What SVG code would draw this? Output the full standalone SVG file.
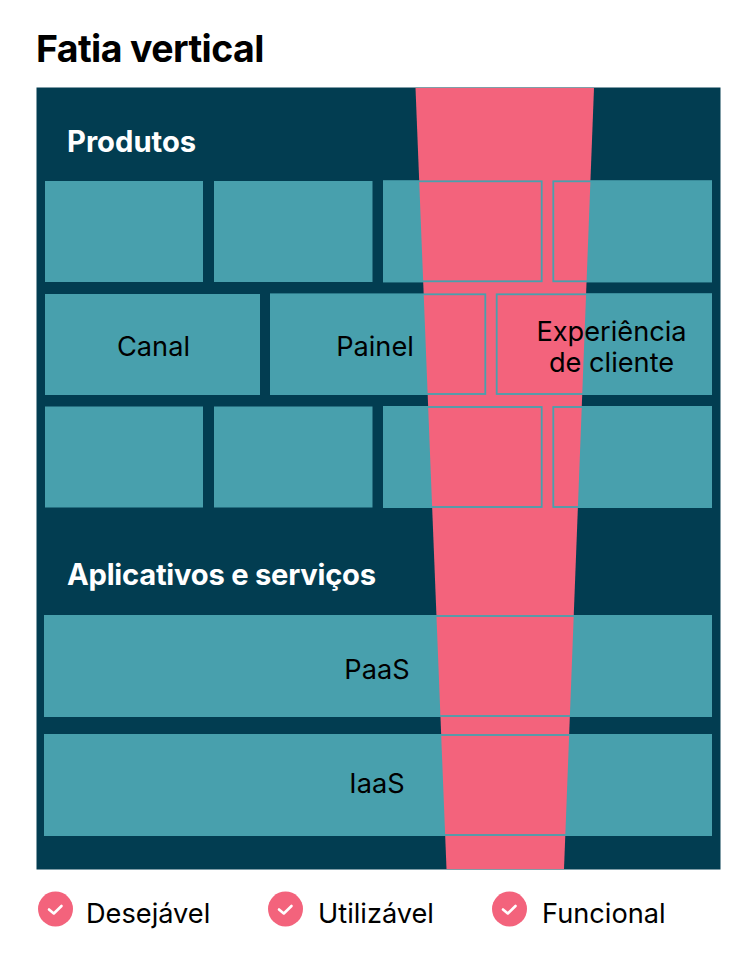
<svg xmlns="http://www.w3.org/2000/svg" width="751" height="953" viewBox="0 0 751 953">
<style>
text{font-family:Inter,"Liberation Sans",sans-serif;fill:#000}
.t{font-size:27.200px;text-anchor:middle}
.h{font-size:29.200px;font-weight:700;fill:#fff}
.l{font-size:27.200px}
.o{fill:none;stroke:#48a0ad;stroke-width:1.800}
.b{fill:#48a0ad}
.c{fill:#f3637c}
.k{fill:none;stroke:#fff;stroke-width:2.600;stroke-linecap:round;stroke-linejoin:round}
</style>
<rect width="751" height="953" fill="#fff"/>
<text id="title" x="36" y="61.500" font-size="37.500" font-weight="700" letter-spacing="-0.600">Fatia vertical</text>
<rect id="frame" x="36.500" y="87.500" width="684" height="782" fill="#023d51"/>
<g id="fills">
<rect class="b" x="45" y="181" width="158" height="101"/>
<rect class="b" x="214" y="181" width="158.500" height="101"/>
<rect class="b" x="383" y="180.500" width="160" height="101.800"/>
<rect class="b" x="552.500" y="180.500" width="159.500" height="101.800"/>
<rect class="b" x="45" y="294" width="215" height="101"/>
<rect class="b" x="270" y="294" width="216.500" height="101"/>
<rect class="b" x="496" y="293.500" width="216" height="101.500"/>
<rect class="b" x="45" y="406.500" width="158" height="101"/>
<rect class="b" x="214" y="406.500" width="158.500" height="101"/>
<rect class="b" x="383" y="406" width="160" height="102"/>
<rect class="b" x="552.500" y="406" width="159.500" height="102"/>
<rect class="b" x="44" y="615" width="668" height="102"/>
<rect class="b" x="44" y="734" width="668" height="102"/>
</g>
<polygon id="slice" class="c" points="415.500,88 594,88 564,869 446.500,869"/>
<g id="outlines">
<rect class="o" x="383.900" y="181.300" width="157.800" height="100"/>
<rect class="o" x="553.300" y="181.300" width="157.800" height="100"/>
<rect class="o" x="270.900" y="294.300" width="214.400" height="99.700"/>
<rect class="o" x="496.700" y="294.300" width="214.400" height="99.700"/>
<rect class="o" x="383.900" y="407" width="157.800" height="100"/>
<rect class="o" x="553.300" y="407" width="157.800" height="100"/>
<rect class="o" x="44.900" y="616" width="666.200" height="100"/>
<rect class="o" x="44.900" y="735" width="666.200" height="100"/>
</g>
<text id="produtos" class="h" x="67" y="151.500">Produtos</text>
<text id="aplicativos" class="h" x="67" y="584.500" letter-spacing="-0.250">Aplicativos e serviços</text>
<g id="canal"><text class="t" x="153.500" y="355.500">Canal</text></g>
<g id="painel"><text class="t" x="375" y="355.500">Painel</text></g>
<g id="experiencia"><text class="t" x="611.500" y="340.500">Experiência</text><text class="t" x="611.500" y="371.500">de cliente</text></g>
<g id="paas"><text class="t" x="377" y="679">PaaS</text></g>
<g id="iaas"><text class="t" x="377" y="793">IaaS</text></g>
<g id="legend-desejavel"><circle class="c" cx="55.500" cy="909" r="17.500"/><path class="k" d="M49 909.500l4.800 4 7.700-7.500"/><text class="l" x="86" y="923">Desejável</text></g>
<g id="legend-utilizavel"><circle class="c" cx="285.500" cy="909" r="17.500"/><path class="k" d="M279 909.500l4.800 4 7.700-7.500"/><text class="l" x="318" y="923">Utilizável</text></g>
<g id="legend-funcional"><circle class="c" cx="509.500" cy="909" r="17.500"/><path class="k" d="M503 909.500l4.800 4 7.700-7.500"/><text class="l" x="542" y="923">Funcional</text></g>
</svg>
